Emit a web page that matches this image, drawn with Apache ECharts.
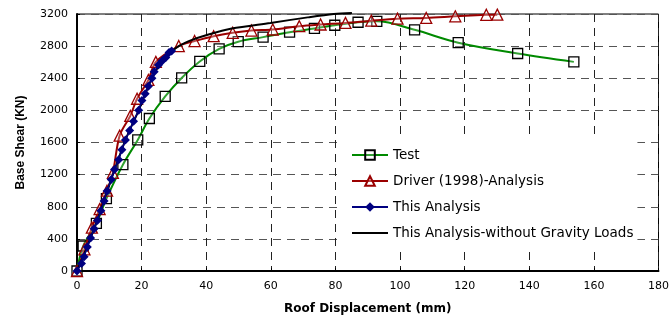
<!DOCTYPE html>
<html>
<head>
<meta charset="utf-8">
<script src="https://cdn.jsdelivr.net/npm/echarts@6/dist/echarts.min.js"></script>
<style>
  html, body { margin: 0; padding: 0; background: #fff; }
  #chart { width: 672px; height: 320px; }
</style>
</head>
<body>
<div id="chart"></div>
<script>
// [displacement mm, base shear kN]
const testData = [
  [0, 0], [1.9, 311], [6, 594], [9.1, 902], [14.2, 1324], [18.8, 1632],
  [22.4, 1899], [27.3, 2174], [32.4, 2404], [38, 2609], [44, 2765],
  [49.9, 2855], [57.6, 2912], [65.8, 2974], [73.5, 3020], [79.8, 3060],
  [87, 3097], [92.8, 3109], [104.5, 3003], [118, 2843], [136.4, 2708], [153.8, 2604]
]
const driverData = [
  [0, 0], [2.3, 270], [4.6, 540], [7, 770], [9.3, 1000], [11.1, 1222],
  [13.2, 1686], [16.5, 1932], [18.6, 2145], [22.1, 2379], [24.4, 2604],
  [31.5, 2801], [36.4, 2863], [42.3, 2924], [48.2, 2966], [54, 2994],
  [60.6, 3007], [68.8, 3048], [75.4, 3069], [83.1, 3089], [91.1, 3117],
  [99.2, 3142], [108.1, 3151], [117.1, 3171], [126.7, 3190], [130.1, 3192]
]
const thisData = [
  [0, 0], [1.4, 94], [2.2, 176], [3.2, 299], [4.2, 410], [5.3, 525],
  [6.3, 628], [7.4, 750], [8.4, 873], [9.3, 997], [10.6, 1140], [11.6, 1263],
  [12.9, 1386], [13.9, 1509], [15, 1632], [16.3, 1748], [17.5, 1866],
  [19.1, 2001], [20.1, 2124], [21.1, 2207], [22.1, 2301], [23.2, 2400],
  [23.9, 2481], [25.2, 2564], [26.4, 2617], [27.5, 2658], [28.5, 2720], [29.3, 2740]
]
const noGravityData = [
  [0, 0], [5.3, 525], [10.6, 1140], [15, 1632], [19.1, 2001], [23.2, 2400],
  [26.4, 2617], [29.5, 2740], [31.5, 2800], [34.6, 2863], [40.7, 2945],
  [47.9, 3019], [59.9, 3089], [71.4, 3158], [79.5, 3200], [85.1, 3212]
]
const seriesNames = ['Test', 'Driver (1998)-Analysis', 'This Analysis', 'This Analysis-without Gravity Loads']

const chart = echarts.init(document.getElementById('chart'))
const wide = 'DejaVu Sans, sans-serif'

chart.setOption({
  animation: false,
  grid: { left: 77, right: 8, top: 14, bottom: 46, show: true, borderColor: '#000', borderWidth: 1 },
  legend: {
    orient: 'vertical',
    left: 337,
    top: 140,
    data: [
      seriesNames[0],
      seriesNames[1],
      seriesNames[2],
      { name: seriesNames[3], itemStyle: { opacity: 0 } },
    ],
    backgroundColor: '#fff',
    padding: [8, 4, 8, 14],
    itemWidth: 36,
    itemHeight: 12,
    itemGap: 12,
    textStyle: { fontFamily: wide, fontSize: 13.5, color: '#000' },
  },
  xAxis: {
    type: 'value',
    min: 0,
    max: 180,
    interval: 20,
    name: 'Roof Displacement (mm)',
    nameLocation: 'middle',
    nameGap: 32,
    nameTextStyle: { fontFamily: wide, fontSize: 12, fontWeight: 'bold', color: '#000' },
    axisLine: { lineStyle: { color: '#000', width: 2 } },
    axisTick: { inside: true, length: 3, lineStyle: { color: '#000' } },
    axisLabel: { fontFamily: wide, fontSize: 11, color: '#000', margin: 10 },
    splitLine: { lineStyle: { color: '#222', type: [8, 6], width: 1 } },
  },
  yAxis: {
    type: 'value',
    min: 0,
    max: 3200,
    interval: 400,
    name: 'Base Shear (KN)',
    nameLocation: 'middle',
    nameGap: 50,
    nameTextStyle: { fontFamily: 'Liberation Sans, Arial, sans-serif', fontSize: 12, fontWeight: 'bold', color: '#000' },
    axisLine: { show: true, lineStyle: { color: '#000', width: 2 } },
    axisTick: { show: true, inside: true, length: 3, lineStyle: { color: '#000' } },
    axisLabel: { fontFamily: wide, fontSize: 11, color: '#000', margin: 9, formatter: (v) => String(v) },
    splitLine: { lineStyle: { color: '#555', type: [8, 6], width: 1 } },
  },
  series: [
    {
      name: seriesNames[0],
      type: 'line',
      data: testData,
      smooth: 0.35,
      symbol: 'rect',
      symbolSize: 10,
      lineStyle: { color: '#008a00', width: 2 },
      itemStyle: { color: 'rgba(255,255,255,0.2)', borderColor: '#000', borderWidth: 1.3 },
      z: 2,
    },
    {
      name: seriesNames[1],
      type: 'line',
      data: driverData,
      smooth: 0.3,
      symbol: 'triangle',
      symbolSize: 11,
      lineStyle: { color: '#9a0000', width: 2 },
      itemStyle: { color: 'rgba(255,255,255,0.3)', borderColor: '#9a0000', borderWidth: 1.3 },
      z: 3,
    },
    {
      name: seriesNames[2],
      type: 'line',
      data: thisData,
      symbol: 'diamond',
      symbolSize: 9,
      lineStyle: { color: '#000080', width: 1.5 },
      itemStyle: { color: '#000080' },
      z: 5,
    },
    {
      name: seriesNames[3],
      type: 'line',
      data: noGravityData,
      smooth: 0.3,
      symbol: 'none',
      clip: false,
      lineStyle: { color: '#000', width: 2 },
      itemStyle: { color: '#000' },
      z: 4,
    },
  ],
})
</script>
</body>
</html>
